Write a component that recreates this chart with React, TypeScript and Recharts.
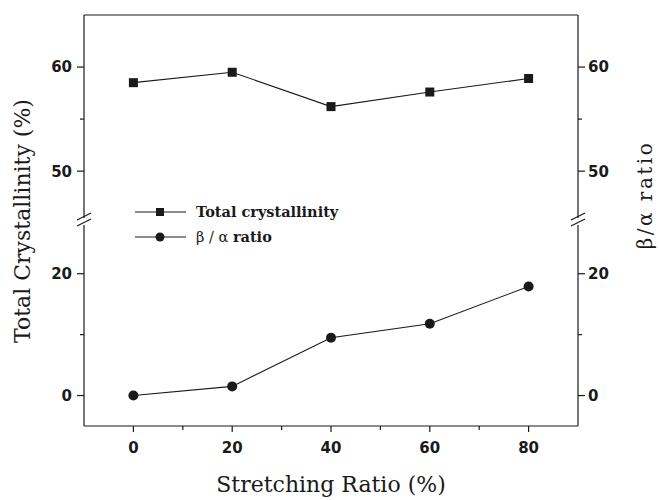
import React from 'react';
import { LineChart, Line, XAxis, YAxis, ReferenceLine } from 'recharts';

const stretchingRatio = [0, 20, 40, 60, 80];
const totalCrystallinity = [58.5, 59.5, 56.2, 57.6, 58.9];
const betaAlphaRatio = [0, 1.5, 9.5, 11.8, 17.9];

const xTicks = [0, 10, 20, 30, 40, 50, 60, 70, 80];
const xLabels = [0, 20, 40, 60, 80];
const upperTicks = [50, 55, 60];
const upperLabels = [50, 60];
const lowerTicks = [0, 10, 20];
const lowerLabels = [0, 20];

const upperData = stretchingRatio.map((s, i) => ({ s, total: totalCrystallinity[i] }));
const lowerData = stretchingRatio.map((s, i) => ({ s, ratio: betaAlphaRatio[i] }));

const W = 659;
const H = 500;
const LEFT = 84;
const RIGHT = 578;
const BOTTOM = 426;

const tickFont = "'DejaVu Sans', 'Liberation Sans', sans-serif";
const serif = "'DejaVu Serif', 'Liberation Serif', serif";
const ink = '#1a1a1a';

// y ticks: draw our own tick marks so minor ticks can be shorter and unlabelled
const yTick = (side: 'left' | 'right', labels: number[]) => (props: any) => {
  const { y, payload } = props;
  const major = labels.includes(payload.value);
  const len = major ? 7 : 4;
  if (side === 'left') {
    return (
      <g>
        <line x1={LEFT - len} x2={LEFT} y1={y} y2={y} stroke={ink} strokeWidth={1.2} />
        {major && (
          <text x={LEFT - 12} y={y} dy="0.36em" textAnchor="end" fontFamily={tickFont} fontWeight="bold" fontSize={15} fill={ink}>
            {payload.value}
          </text>
        )}
      </g>
    );
  }
  return (
    <g>
      <line x1={RIGHT} x2={RIGHT + len} y1={y} y2={y} stroke={ink} strokeWidth={1.2} />
      {major && (
        <text x={RIGHT + 10} y={y} dy="0.36em" textAnchor="start" fontFamily={tickFont} fontWeight="bold" fontSize={15} fill={ink}>
          {payload.value}
        </text>
      )}
    </g>
  );
};

const xTick = (props: any) => {
  const { x, payload } = props;
  const major = xLabels.includes(payload.value);
  return (
    <g>
      <line x1={x} x2={x} y1={BOTTOM} y2={BOTTOM + (major ? 6 : 4)} stroke={ink} strokeWidth={1.2} />
      {major && (
        <text x={x} y={BOTTOM + 22} dy="0.36em" textAnchor="middle" fontFamily={tickFont} fontWeight="bold" fontSize={15} fill={ink}>
          {payload.value}
        </text>
      )}
    </g>
  );
};

const SquareDot = (props: any) => {
  const { cx, cy } = props;
  return <rect x={cx - 4.5} y={cy - 4.5} width={9} height={9} fill={ink} />;
};

const CircleDot = (props: any) => {
  const { cx, cy } = props;
  return <circle cx={cx} cy={cy} r={5} fill={ink} />;
};

const abs: React.CSSProperties = { position: 'absolute', left: 0, top: 0 };

export default function App() {
  return (
    <div style={{ position: 'absolute', left: 0, top: 0, width: W, height: H, background: '#fff' }}>
      <div style={abs}>
        <LineChart width={W} height={H} data={upperData} margin={{ top: 15, right: 0, bottom: H - 218, left: 0 }}>
          <XAxis dataKey="s" type="number" domain={[-10, 90]} hide />
          <YAxis yAxisId="left" width={LEFT} domain={[45.5, 65]} ticks={upperTicks} tickLine={false}
            tick={yTick('left', upperLabels)} axisLine={{ stroke: ink, strokeWidth: 1.2 }} allowDataOverflow />
          <YAxis yAxisId="right" orientation="right" width={W - RIGHT} domain={[45.5, 65]} ticks={upperTicks} tickLine={false}
            tick={yTick('right', upperLabels)} axisLine={{ stroke: ink, strokeWidth: 1.2 }} allowDataOverflow />
          <ReferenceLine yAxisId="left" y={65} stroke={ink} strokeWidth={1.2} />
          <Line yAxisId="left" dataKey="total" stroke={ink} strokeWidth={1.1} dot={<SquareDot />} isAnimationActive={false} />
        </LineChart>
      </div>
      <div style={abs}>
        <LineChart width={W} height={H} data={lowerData} margin={{ top: 225, right: 0, bottom: 0, left: 0 }}>
          <XAxis dataKey="s" type="number" domain={[-10, 90]} ticks={xTicks} height={H - BOTTOM} tickLine={false}
            tick={xTick} axisLine={{ stroke: ink, strokeWidth: 1.2 }} allowDataOverflow />
          <YAxis yAxisId="left" width={LEFT} domain={[-5, 28]} ticks={lowerTicks} tickLine={false}
            tick={yTick('left', lowerLabels)} axisLine={{ stroke: ink, strokeWidth: 1.2 }} allowDataOverflow />
          <YAxis yAxisId="right" orientation="right" width={W - RIGHT} domain={[-5, 28]} ticks={lowerTicks} tickLine={false}
            tick={yTick('right', lowerLabels)} axisLine={{ stroke: ink, strokeWidth: 1.2 }} allowDataOverflow />
          <Line yAxisId="left" dataKey="ratio" stroke={ink} strokeWidth={1.1} dot={<CircleDot />} isAnimationActive={false} />
        </LineChart>
      </div>
      <svg width={W} height={H} style={{ ...abs, pointerEvents: 'none' }}>
        {/* axis break marks */}
        {[LEFT, RIGHT].map((ax) => (
          <g key={ax} stroke={ink} strokeWidth={1.2}>
            <line x1={ax - 7} y1={220} x2={ax + 7} y2={213} />
            <line x1={ax - 7} y1={226} x2={ax + 7} y2={219} />
          </g>
        ))}
        {/* legend */}
        <g>
          <line x1={135} x2={186} y1={212} y2={212} stroke={ink} strokeWidth={1.2} />
          <rect x={156} y={208} width={8} height={8} fill={ink} />
          <text x={196} y={212} dy="0.36em" fontFamily={serif} fontWeight="bold" fontSize={14.5} fill={ink}>Total crystallinity</text>
          <line x1={135} x2={186} y1={237} y2={237} stroke={ink} strokeWidth={1.2} />
          <circle cx={160} cy={237} r={4.5} fill={ink} />
          <text x={196} y={237} dy="0.36em" fontFamily={serif} fontSize={14.5} fill={ink}>
            β / α <tspan fontWeight="bold">ratio</tspan>
          </text>
        </g>
        <text transform="translate(30,221) rotate(-90)" textAnchor="middle" fontFamily={serif} fontSize={22} fill={ink}>
          Total Crystallinity (%)
        </text>
        <text transform="translate(652,195) rotate(-90)" textAnchor="middle" fontFamily={serif} fontSize={20} letterSpacing={2.5} fill={ink}>
          β/α ratio
        </text>
        <text x={331} y={492} textAnchor="middle" fontFamily={serif} fontSize={22} fill={ink}>
          Stretching Ratio (%)
        </text>
      </svg>
    </div>
  );
}
